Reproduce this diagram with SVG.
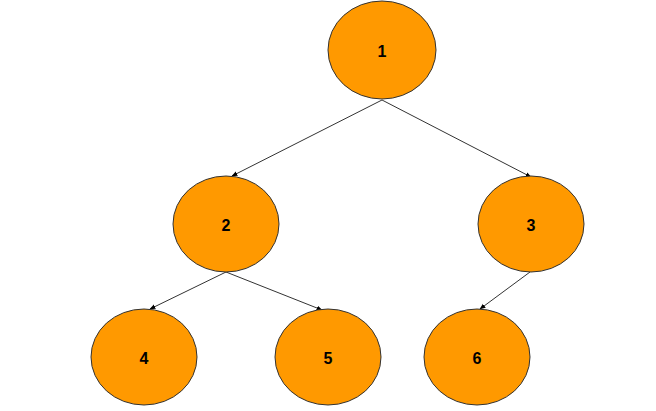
<svg xmlns="http://www.w3.org/2000/svg" width="656" height="411" viewBox="0 0 656 411">
<style>
.n ellipse{fill:#ff9900;stroke:#333;stroke-width:1}
.n text{font-family:"Liberation Sans",Arial,sans-serif;font-weight:bold;font-size:16px;fill:#000;text-anchor:middle;dominant-baseline:central}
.e line{stroke:#333;stroke-width:1;marker-end:url(#a)}
</style>
<defs>
<marker id="a" viewBox="0 0 10 10" refX="9" refY="5" markerWidth="6" markerHeight="6" orient="auto" markerUnits="userSpaceOnUse">
<path d="M0,1 L10,5 L0,9 z" fill="#000"/>
</marker>
</defs>
<rect width="656" height="411" fill="#fff"/>
<g id="edges" class="e">
<line x1="382" y1="100" x2="232" y2="176"/>
<line x1="382" y1="100" x2="531" y2="177"/>
<line x1="226" y1="272" x2="150" y2="309"/>
<line x1="226" y1="272" x2="322" y2="310"/>
<line x1="530" y1="272" x2="480" y2="309"/>
</g>
<g id="node1" class="n"><ellipse cx="382" cy="50" rx="54" ry="49"/><text x="382" y="51">1</text></g>
<g id="node2" class="n"><ellipse cx="226" cy="224" rx="53" ry="48"/><text x="226" y="225">2</text></g>
<g id="node3" class="n"><ellipse cx="531" cy="224" rx="53" ry="48"/><text x="531" y="225">3</text></g>
<g id="node4" class="n"><ellipse cx="144" cy="357" rx="53" ry="48"/><text x="144" y="358">4</text></g>
<g id="node5" class="n"><ellipse cx="328" cy="357" rx="53" ry="48"/><text x="328" y="358">5</text></g>
<g id="node6" class="n"><ellipse cx="477" cy="357" rx="53" ry="48"/><text x="477" y="358">6</text></g>
</svg>
